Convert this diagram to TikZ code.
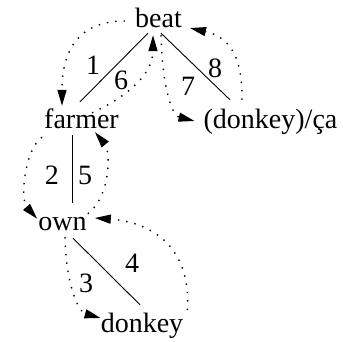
\documentclass[tikz,border=0pt]{standalone}
\usepackage{fontspec}
\setmainfont{Liberation Serif}
\usetikzlibrary{arrows.meta}

\begin{document}
\begin{tikzpicture}[
    x=1pt, y=-1pt,
    font=\fontsize{28}{34}\selectfont,
    every node/.style={inner sep=0pt},
    word/.style={anchor=base, text height=19pt, text depth=6pt},
    num/.style={anchor=center},
    link/.style={line width=0.9pt},
    walk/.style={line width=1.4pt, dash pattern=on 1.4pt off 7pt, -{Triangle[length=16pt,width=9pt]}}
]
\useasboundingbox (0,0) rectangle (343,341);

\node[word] (beat) at (158.5,27) {beat};
\node[word] (farmer) at (81.5,128) {farmer};
\node[word] (donkeyca) at (270.5,128) {(donkey)/ça};
\node[word] (own) at (62.5,230) {own};
\node[word] (donkey) at (142,332) {donkey};

\node[num] (n1) at (93,65) {1};
\node[num] (n6) at (121,80) {6};
\node[num] (n7) at (188,86) {7};
\node[num] (n8) at (215,68) {8};
\node[num] (n2) at (52,175) {2};
\node[num] (n5) at (85,175) {5};
\node[num] (n3) at (86,283) {3};
\node[num] (n4) at (132,263) {4};

\draw[link] ([shift={(-10.5,0)}]beat.south) -- ([shift={(-1.5,-7)}]farmer.north);
\draw[link] ([shift={(2.5,0)}]beat.south) -- ([shift={(-40.5,-9)}]donkeyca.north);
\draw[link] ([shift={(-9,1)}]farmer.south) -- ([shift={(10,-8)}]own.north);
\draw[link] ([shift={(10.5,2)}]own.south) -- ([shift={(-2,-8)}]donkey.north);

% walk round the tree
\draw[walk] ([shift={(-10,0.5)}]beat.west) .. controls +(-50,0) and +(0,-51) .. ([shift={(-19.5,-3)}]farmer.north);
\draw[walk] ([shift={(-2,3)}]farmer.south west) .. controls +(-18,13) and +(-17,-19) .. ([shift={(-1,8)}]own.north west);
\draw[walk] ([shift={(2.5,1)}]own.south) .. controls +(1,48) and +(-22,-6) .. ([shift={(0,-7.5)}]donkey.west);
\draw[walk] ([shift={(4,-15.5)}]donkey.east) .. controls +(4,-65) and +(55,4) .. ([shift={(8,-5.5)}]own.east);
\draw[walk] ([shift={(1,3)}]own.north east) .. controls +(24,-19) and +(15,18) .. ([shift={(13.5,-2)}]farmer.south);
\draw[walk] ([shift={(10.5,4)}]farmer.north) .. controls +(33,-15) and +(0,40) .. ([shift={(-5.5,2)}]beat.south);
\draw[walk] ([shift={(2.5,2)}]beat.south) .. controls +(1,45) and +(-24,-6) .. ([shift={(-9,-0.5)}]donkeyca.west);
\draw[walk] ([shift={(-28.5,-9)}]donkeyca.north) .. controls +(1,-55) and +(30,7) .. ([shift={(8,7.5)}]beat.east);

\end{tikzpicture}
\end{document}
